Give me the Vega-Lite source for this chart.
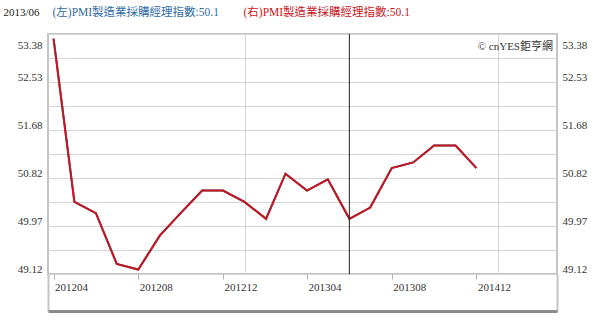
{
  "$schema": "https://vega.github.io/schema/vega-lite/v6.json",
  "autosize": "none",
  "width": 509,
  "height": 240,
  "padding": {"left": 48, "top": 34, "right": 43, "bottom": 47},
  "background": "white",
  "config": {
    "view": {"stroke": "#c4c4c4", "strokeWidth": 2},
    "font": "Liberation Serif",
    "axis": {"labelFont": "Liberation Serif", "titleFont": "Liberation Serif, Noto Sans CJK TC", "labelFontSize": 11, "labelColor": "#333333", "titleFontWeight": "normal", "titleFontSize": 11.5}
  },
  "title": {"text": "© cnYES鉅亨網", "anchor": "end", "orient": "top", "offset": -46, "dx": -4, "fontSize": 11, "fontWeight": "normal", "color": "#333333", "font": "Liberation Serif, Noto Sans CJK TC", "frame": "group"},
  "datasets": {
    "pmi": [
      {"date": "2012-04-01", "pmi": 53.3},
      {"date": "2012-05-01", "pmi": 50.4},
      {"date": "2012-06-01", "pmi": 50.2},
      {"date": "2012-07-01", "pmi": 49.3},
      {"date": "2012-08-01", "pmi": 49.2},
      {"date": "2012-09-01", "pmi": 49.8},
      {"date": "2012-10-01", "pmi": 50.2},
      {"date": "2012-11-01", "pmi": 50.6},
      {"date": "2012-12-01", "pmi": 50.6},
      {"date": "2013-01-01", "pmi": 50.4},
      {"date": "2013-02-01", "pmi": 50.1},
      {"date": "2013-03-01", "pmi": 50.9},
      {"date": "2013-04-01", "pmi": 50.6},
      {"date": "2013-05-01", "pmi": 50.8},
      {"date": "2013-06-01", "pmi": 50.1},
      {"date": "2013-07-01", "pmi": 50.3},
      {"date": "2013-08-01", "pmi": 51.0},
      {"date": "2013-09-01", "pmi": 51.1},
      {"date": "2013-10-01", "pmi": 51.4},
      {"date": "2013-11-01", "pmi": 51.4},
      {"date": "2013-12-01", "pmi": 51.0}
    ],
    "cursor": [{"date": "2013-06-01"}]
  },
  "resolve": {"scale": {"x": "independent", "y": "independent"}, "axis": {"x": "independent", "y": "independent"}},
  "layer": [
    {
      "data": {"name": "pmi"},
      "mark": {"type": "line", "color": "#336699", "strokeWidth": 2},
      "encoding": {
        "x": {"field": "date", "type": "temporal",
          "scale": {"type": "utc", "domain": [{"year": 2012, "month": 3, "date": 24, "utc": true}, {"year": 2014, "month": 3, "date": 27, "utc": true}]},
          "axis": {"orient": "bottom", "title": null, "grid": false, "domain": false,
            "values": [{"year": 2012, "month": 4, "date": 1, "utc": true}, {"year": 2012, "month": 8, "date": 1, "utc": true}, {"year": 2012, "month": 12, "date": 1, "utc": true}, {"year": 2013, "month": 4, "date": 1, "utc": true}, {"year": 2013, "month": 8, "date": 1, "utc": true}, {"year": 2013, "month": 12, "date": 1, "utc": true}],
            "labelExpr": "utcFormat(datum.value, '%Y%m') == '201312' ? '201412' : utcFormat(datum.value, '%Y%m')",
            "labelAlign": "left", "labelOffset": 1, "labelPadding": 2, "labelBaseline": "top",
            "ticks": true, "tickSize": 5, "tickColor": "#b0b0b0", "tickWidth": 1, "labelFlush": false, "labelOverlap": false}},
        "y": {"field": "pmi", "type": "quantitative",
          "scale": {"domain": [49.12, 53.38], "nice": false, "zero": false},
          "axis": {"orient": "left", "grid": true, "gridColor": "#d4d4d4", "gridWidth": 1, "ticks": false, "domain": false,
            "values": [49.12, 49.546, 49.972, 50.398, 50.824, 51.25, 51.676, 52.102, 52.528, 52.954, 53.38],
            "labelExpr": "round((datum.value - 49.12) / 0.426) % 2 == 0 ? format(datum.value, '.2f') : ''",
            "labelBaseline": "bottom", "labelPadding": 6, "labelFlush": false, "labelOverlap": false,
            "labelOffset": {"condition": {"test": "datum.value > 53.3", "value": 16}, "value": 0},
            "title": "2013/06", "titleFontSize": 11, "titleAngle": 0, "titleAlign": "left", "titleBaseline": "middle", "titleX": -45, "titleY": -22, "titleColor": "#222222", "titleFont": "Liberation Serif"}}
      }
    },
    {
      "data": {"name": "pmi"},
      "mark": {"type": "line", "color": "#c8161d", "strokeWidth": 2},
      "encoding": {
        "x": {"field": "date", "type": "temporal",
          "scale": {"type": "utc", "domain": [{"year": 2012, "month": 3, "date": 24, "utc": true}, {"year": 2014, "month": 3, "date": 27, "utc": true}]},
          "axis": {"orient": "top", "grid": true, "gridColor": "#d4d4d4", "labels": false, "ticks": false, "domain": false,
            "values": [{"year": 2013, "month": 1, "date": 1, "utc": true}, {"year": 2014, "month": 1, "date": 1, "utc": true}],
            "title": "(左)PMI製造業採購經理指數:50.1", "titleColor": "#2f6aa8", "titleAlign": "left", "titleBaseline": "middle", "titleX": 4, "titleY": -22, "titleAngle": 0}},
        "y": {"field": "pmi", "type": "quantitative",
          "scale": {"domain": [49.12, 53.38], "nice": false, "zero": false},
          "axis": {"orient": "right", "grid": false, "ticks": false, "domain": false,
            "values": [49.12, 49.972, 50.824, 51.676, 52.528, 53.38],
            "format": ".2f", "labelBaseline": "bottom", "labelPadding": 5, "labelFlush": false, "labelOverlap": false,
            "labelOffset": {"condition": {"test": "datum.value > 53.3", "value": 16}, "value": 0},
            "title": "(右)PMI製造業採購經理指數:50.1", "titleColor": "#c8161d", "titleAngle": 0, "titleAlign": "left", "titleBaseline": "middle", "titleX": -314, "titleY": -22}}
      }
    },
    {
      "data": {"name": "cursor"},
      "mark": {"type": "rule", "color": "#222222", "strokeWidth": 1},
      "encoding": {
        "x": {"field": "date", "type": "temporal",
          "scale": {"type": "utc", "domain": [{"year": 2012, "month": 3, "date": 24, "utc": true}, {"year": 2014, "month": 3, "date": 27, "utc": true}]},
          "axis": {"orient": "bottom", "offset": 37, "title": null, "labels": false, "grid": false,
            "domain": true, "domainColor": "#8a8a8a", "domainWidth": 3,
            "values": [{"year": 2012, "month": 3, "date": 24, "utc": true}, {"year": 2014, "month": 3, "date": 27, "utc": true}],
            "ticks": true, "tickSize": -37, "tickColor": "#c4c4c4", "tickWidth": 2}}
      }
    }
  ]
}
